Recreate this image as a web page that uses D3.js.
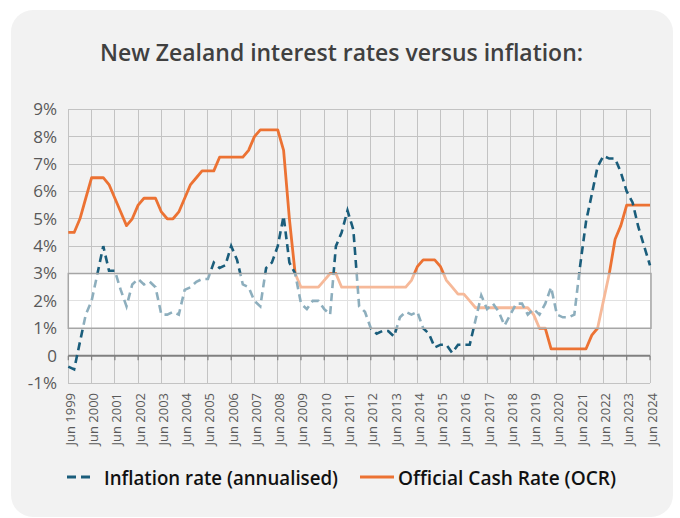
<!DOCTYPE html>
<html><head><meta charset="utf-8">
<script src="https://cdn.jsdelivr.net/npm/d3@7"></script>
<style>html,body{margin:0;padding:0;background:#fff;} svg{display:block;}</style>
</head><body>
<script>
// ---- data (quarterly, Jun 1999 .. Jun 2024) ----
const quarters = d3.timeMonth.range(new Date(1999, 5, 1), new Date(2024, 6, 1), 3);
const inflation = [
  -0.4, -0.5, 0.5,
  1.5, 2.0, 3.0, 4.0,
  3.1, 3.1, 2.4, 1.8,
  2.6, 2.8, 2.6, 2.7,
  2.5, 1.5, 1.5, 1.6,
  1.5, 2.4, 2.5, 2.7,
  2.8, 2.8, 3.4, 3.2,
  3.3, 4.0, 3.5, 2.6,
  2.5, 2.0, 1.8, 3.2,
  3.4, 4.0, 5.1, 3.4,
  3.0, 1.9, 1.7, 2.0,
  2.0, 1.7, 1.5, 4.0,
  4.5, 5.3, 4.6, 1.8,
  1.6, 1.0, 0.8, 0.9,
  0.9, 0.7, 1.4, 1.6,
  1.5, 1.6, 1.0, 0.8,
  0.3, 0.4, 0.4, 0.1,
  0.4, 0.4, 0.4, 1.3,
  2.2, 1.7, 1.9, 1.6,
  1.1, 1.5, 1.9, 1.9,
  1.5, 1.7, 1.5, 1.9,
  2.5, 1.5, 1.4, 1.4,
  1.5, 3.3, 4.9, 5.9,
  6.9, 7.3, 7.2, 7.2,
  6.7, 6.0, 5.6, 4.7,
  4.0, 3.3
];
const ocr = [
  4.5, 4.5, 5.0,
  5.75, 6.5, 6.5, 6.5,
  6.25, 5.75, 5.25, 4.75,
  5.0, 5.5, 5.75, 5.75,
  5.75, 5.25, 5.0, 5.0,
  5.25, 5.75, 6.25, 6.5,
  6.75, 6.75, 6.75, 7.25,
  7.25, 7.25, 7.25, 7.25,
  7.5, 8.0, 8.25, 8.25,
  8.25, 8.25, 7.5, 5.0,
  3.0, 2.5, 2.5, 2.5,
  2.5, 2.75, 3.0, 3.0,
  2.5, 2.5, 2.5, 2.5,
  2.5, 2.5, 2.5, 2.5,
  2.5, 2.5, 2.5, 2.5,
  2.75, 3.25, 3.5, 3.5,
  3.5, 3.25, 2.75, 2.5,
  2.25, 2.25, 2.0, 1.75,
  1.75, 1.75, 1.75, 1.75,
  1.75, 1.75, 1.75, 1.75,
  1.75, 1.5, 1.0, 1.0,
  0.25, 0.25, 0.25, 0.25,
  0.25, 0.25, 0.25, 0.75,
  1.0, 2.0, 3.0, 4.25,
  4.75, 5.5, 5.5, 5.5,
  5.5, 5.5
];
const yTicks = [-1, 0, 1, 2, 3, 4, 5, 6, 7, 8, 9];
const yTickLabels = ["-1%", "0", "1%", "2%", "3%", "4%", "5%", "6%", "7%", "8%", "9%"];
const xTickYears = d3.range(1999, 2025);
const targetBand = [1, 3];
const title = "New Zealand interest rates versus inflation:";
const seriesNames = ["Inflation rate (annualised)", "Official Cash Rate (OCR)"];

// ---- drawing ----
const W = 680, H = 518;
const blue = "#1a5d7b", orange = "#ec7233";
const svg = d3.select("body").append("svg").attr("width", W).attr("height", H);
svg.append("rect").attr("width", W).attr("height", H).attr("fill", "#fff");
svg.append("rect").attr("x", 11).attr("y", 10).attr("width", 662).attr("height", 507)
  .attr("rx", 22).attr("fill", "#f2f2f2");

const x = d3.scaleTime().domain([new Date(1999, 5, 1), new Date(2024, 5, 1)]).range([68.3, 650]);
const y = d3.scaleLinear().domain([-1, 9]).range([383, 109.3]);
const xTickDates = xTickYears.map(yr => new Date(yr, 5, 1));

// title
const t = svg.append("text").attr("x", 341.5).attr("y", 61).attr("text-anchor", "middle")
  .attr("font-family", "'Open Sans', sans-serif").attr("font-weight", 600)
  .attr("font-size", 24).attr("fill", "#404040").text(title);
if (t.node().getComputedTextLength() > 483) t.attr("textLength", 483).attr("lengthAdjust", "spacingAndGlyphs");

// white band under grid
svg.append("rect").attr("x", x.range()[0]).attr("y", y(targetBand[1]))
  .attr("width", x.range()[1] - x.range()[0] + 1).attr("height", y(targetBand[0]) - y(targetBand[1]))
  .attr("fill", "#fff");

// gridlines
const grid = svg.append("g").attr("stroke", "#c3c3c3").attr("stroke-width", 1).attr("shape-rendering", "crispEdges");
grid.selectAll("line.h").data(yTicks.filter(v => v !== 0)).join("line")
  .attr("x1", x.range()[0]).attr("x2", x.range()[1]).attr("y1", d => y(d)).attr("y2", d => y(d));
grid.selectAll("line.v").data(xTickDates).join("line")
  .attr("x1", d => x(d)).attr("x2", d => x(d)).attr("y1", y(9)).attr("y2", y(-1));

// zero axis with ticks
const ax = svg.append("g").attr("stroke", "#808080");
ax.append("line").attr("x1", x.range()[0]).attr("x2", x.range()[1]).attr("y1", y(0)).attr("y2", y(0)).attr("stroke-width", 2);
ax.selectAll("line.t").data(xTickDates).join("line")
  .attr("x1", d => x(d)).attr("x2", d => x(d)).attr("y1", y(0)).attr("y2", y(0) + 4.5).attr("stroke-width", 1.2);

// y labels
svg.append("g").selectAll("text").data(yTicks).join("text")
  .attr("x", 57).attr("y", d => y(d)).attr("dy", "0.35em").attr("text-anchor", "end")
  .attr("font-family", "'Open Sans', sans-serif").attr("font-size", 17).attr("fill", "#595959")
  .text((d, i) => yTickLabels[i]);

// x labels
svg.append("g").selectAll("text").data(xTickDates).join("text")
  .attr("transform", d => `translate(${x(d) + 6.5},393) rotate(-90)`)
  .attr("text-anchor", "end")
  .attr("font-family", "'Open Sans', sans-serif").attr("font-size", 13).attr("fill", "#595959")
  .text(d => "Jun " + d.getFullYear());

// lines
const line = d3.line().x((d, i) => x(quarters[i])).y(d => y(d));
svg.append("path").datum(ocr).attr("d", line).attr("fill", "none")
  .attr("stroke", orange).attr("stroke-width", 2.8).attr("stroke-linejoin", "round");
svg.append("path").datum(inflation).attr("d", line).attr("fill", "none")
  .attr("stroke", blue).attr("stroke-width", 2.6).attr("stroke-dasharray", "8,5");

// translucent band overlay
svg.append("rect").attr("x", x.range()[0]).attr("y", y(targetBand[1]))
  .attr("width", x.range()[1] - x.range()[0] + 1).attr("height", y(targetBand[0]) - y(targetBand[1]))
  .attr("fill", "#fff").attr("fill-opacity", 0.5)
  .attr("stroke", "#a6a6a6").attr("stroke-width", 1.5);

// legend
const lg = svg.append("g").attr("font-family", "'Open Sans', sans-serif").attr("font-weight", 600)
  .attr("font-size", 20).attr("fill", "#111");
lg.append("line").attr("x1", 67).attr("x2", 94).attr("y1", 477).attr("y2", 477)
  .attr("stroke", blue).attr("stroke-width", 3).attr("stroke-dasharray", "9,5");
const l1 = lg.append("text").attr("x", 104).attr("y", 484.5).text(seriesNames[0]);
lg.append("line").attr("x1", 360).attr("x2", 394).attr("y1", 477).attr("y2", 477)
  .attr("stroke", orange).attr("stroke-width", 3);
const l2 = lg.append("text").attr("x", 398).attr("y", 484.5).text(seriesNames[1]);
if (l1.node().getComputedTextLength() > 234) l1.attr("textLength", 234).attr("lengthAdjust", "spacingAndGlyphs");
if (l2.node().getComputedTextLength() > 218) l2.attr("textLength", 218).attr("lengthAdjust", "spacingAndGlyphs");
</script>
</body></html>
